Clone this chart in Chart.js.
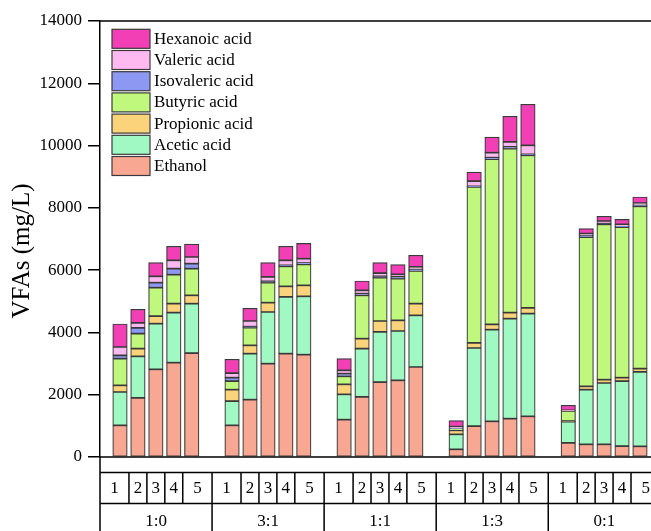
<!DOCTYPE html>
<html>
<head>
<meta charset="utf-8">
<style>
  html, body { margin: 0; padding: 0; background: #fff; overflow: hidden; }
  #wrap { width: 651px; height: 531px; }
</style>
<script src="https://cdn.jsdelivr.net/npm/chart.js@4/dist/chart.umd.min.js"></script>
</head>
<body>
<div id="wrap"><canvas id="c" width="651" height="531"></canvas></div>
<script>
// Ethanol : acetic ratio groups and the five runs in each
const groups = ['1:0', '3:1', '1:1', '1:3', '0:1'];
const runs = ['1', '2', '3', '4', '5'];
const yTicks = [0, 2000, 4000, 6000, 8000, 10000, 12000, 14000];

// Concentrations in mg/L, group by group (five runs each)
const ethanol    = [1017, 1895, 2815, 3029, 3339,  1017, 1841, 2997, 3318, 3286,  1199, 1927, 2408, 2462, 2890,   246,  995, 1145, 1231, 1306,   450,  407,  407,  353,  343];
const acetic     = [1070, 1338, 1466, 1606, 1584,   781, 1477, 1659, 1820, 1873,   813, 1552, 1606, 1584, 1659,   482, 2505, 2943, 3211, 3297,   685, 1755, 1969, 2087, 2387];
const propionic  = [ 214,  246,  246,  289,  268,   364,  268,  300,  343,  353,   321,  321,  353,  343,  375,   128,  161,  171,  193,  182,    21,  107,  107,  107,  107];
const butyric    = [ 856,  482,  910,  931,  856,   278,  567,  642,  642,  674,   257, 1391, 1391, 1338, 1049,    43, 5009, 5309, 5266, 4902,   321, 4795, 4988, 4838, 5212];
const isovaleric = [ 107,  182,  161,  193,  161,   107,   32,   43,   32,   43,    86,   54,   43,   54,   54,    32,   21,   43,   54,   32,     0,   54,   21,   21,   32];
const valeric    = [ 268,  161,  203,  268,  214,   150,  182,  139,  161,  139,   107,  107,  107,   86,   75,    43,  171,  161,  161,  289,    21,   54,   86,   64,   75];
const hexanoic   = [ 739,  439,  439,  450,  417,   439,  407,  460,  450,  492,   375,  300,  332,  310,  375,   193,  289,  503,  824, 1317,   161,  161,  150,  161,  193];

const seriesNames  = ['Ethanol', 'Acetic acid', 'Propionic acid', 'Butyric acid', 'Isovaleric acid', 'Valeric acid', 'Hexanoic acid'];
const seriesValues = [ethanol, acetic, propionic, butyric, isovaleric, valeric, hexanoic];
const seriesColors = ['#f8a792', '#a0f9c2', '#fad37b', '#c0f87e', '#8c98f2', '#ffb9f1', '#f23fb5'];

// Horizontal layout: each group spans 6.25 slots, runs sit at slot 1..5 inside it
const GROUP_SPAN = 6.25;
const RUN_SHIFT = 0.115;
const X_MAX = 30.73;
const runPos = (g, r) => g * GROUP_SPAN + (r + 1) + RUN_SHIFT;

const FONT = '"Liberation Serif", "Times New Roman", serif';
const INK = '#000';
const EDGE = '#3a3a3a';

const datasets = seriesNames.map((name, s) => ({
  label: name,
  data: seriesValues[s].map((v, i) => ({ x: runPos(Math.floor(i / runs.length), i % runs.length), y: v })),
  backgroundColor: seriesColors[s],
  borderColor: EDGE,
  borderWidth: 1.2,
  borderSkipped: false,
  barThickness: 14.5
}));

// Frame, run/group table under the axis, legend and y title
const decorations = {
  id: 'decorations',
  afterDraw(chart) {
    const { ctx, chartArea: a, scales: { x } } = chart;
    const H = chart.height;
    const rowTop = a.bottom + 15.5;
    const rowMid = a.bottom + 46.5;
    ctx.save();
    ctx.strokeStyle = INK;
    ctx.lineWidth = 1.5;
    ctx.beginPath();
    // top frame and x axis
    ctx.moveTo(a.left, a.top); ctx.lineTo(a.right, a.top);
    ctx.moveTo(a.left, a.bottom); ctx.lineTo(a.right, a.bottom);
    // y axis continues through the table
    ctx.moveTo(a.left, a.bottom); ctx.lineTo(a.left, H);
    // table rows
    ctx.moveTo(a.left, rowTop); ctx.lineTo(a.right, rowTop);
    ctx.moveTo(a.left, rowMid); ctx.lineTo(a.right, rowMid);
    ctx.stroke();

    ctx.fillStyle = INK;
    ctx.textAlign = 'center';
    ctx.textBaseline = 'middle';
    ctx.font = '17px ' + FONT;
    groups.forEach((gName, g) => {
      const gl = x.getPixelForValue(g * GROUP_SPAN);
      const gr = x.getPixelForValue((g + 1) * GROUP_SPAN);
      const edges = [gl];
      for (let r = 0; r < runs.length - 1; r++) {
        edges.push((x.getPixelForValue(runPos(g, r)) + x.getPixelForValue(runPos(g, r + 1))) / 2);
      }
      edges.push(gr);
      ctx.beginPath();
      for (let e = 1; e < edges.length - 1; e++) {
        ctx.moveTo(edges[e], rowTop); ctx.lineTo(edges[e], rowMid);
      }
      ctx.moveTo(gr, rowTop); ctx.lineTo(gr, H);
      ctx.stroke();
      runs.forEach((rName, r) => {
        ctx.fillText(rName, (edges[r] + edges[r + 1]) / 2, (rowTop + rowMid) / 2 + 1);
      });
      ctx.fillText(gName, (gl + gr) / 2, rowMid + 18.5);
    });

    // legend, top series first
    ctx.textAlign = 'left';
    ctx.lineWidth = 1.2;
    ctx.strokeStyle = EDGE;
    for (let k = 0; k < seriesNames.length; k++) {
      const s = seriesNames.length - 1 - k;
      const top = a.top + 8.3 + k * 21.2;
      ctx.fillStyle = seriesColors[s];
      ctx.fillRect(112, top, 38, 19);
      ctx.strokeRect(112, top, 38, 19);
      ctx.fillStyle = INK;
      ctx.fillText(seriesNames[s], 154, top + 10);
    }

    // y axis title
    ctx.translate(22, 251);
    ctx.rotate(-Math.PI / 2);
    ctx.textAlign = 'center';
    ctx.font = '25px ' + FONT;
    ctx.fillText('VFAs (mg/L)', 0, 0);
    ctx.restore();
  }
};

new Chart(document.getElementById('c'), {
  type: 'bar',
  data: { datasets },
  options: {
    responsive: false,
    devicePixelRatio: 1,
    animation: false,
    layout: { padding: { top: 21, bottom: 74, left: 0, right: 0 } },
    plugins: { legend: { display: false }, tooltip: { enabled: false } },
    scales: {
      x: {
        type: 'linear',
        min: 0,
        max: X_MAX,
        offset: false,
        grace: 0,
        stacked: true,
        display: false
      },
      y: {
        stacked: true,
        min: 0,
        max: 14000,
        afterFit(scale) { scale.width = 100; },
        afterBuildTicks(scale) { scale.ticks = yTicks.map(v => ({ value: v })); },
        ticks: {
          color: INK,
          padding: 6,
          font: { family: FONT, size: 17 },
          callback: v => String(v)
        },
        grid: { drawOnChartArea: false, drawTicks: true, tickLength: 12, color: INK, lineWidth: 1.5 },
        border: { display: true, color: INK, width: 1.5 }
      }
    }
  },
  plugins: [decorations]
});
</script>
</body>
</html>
